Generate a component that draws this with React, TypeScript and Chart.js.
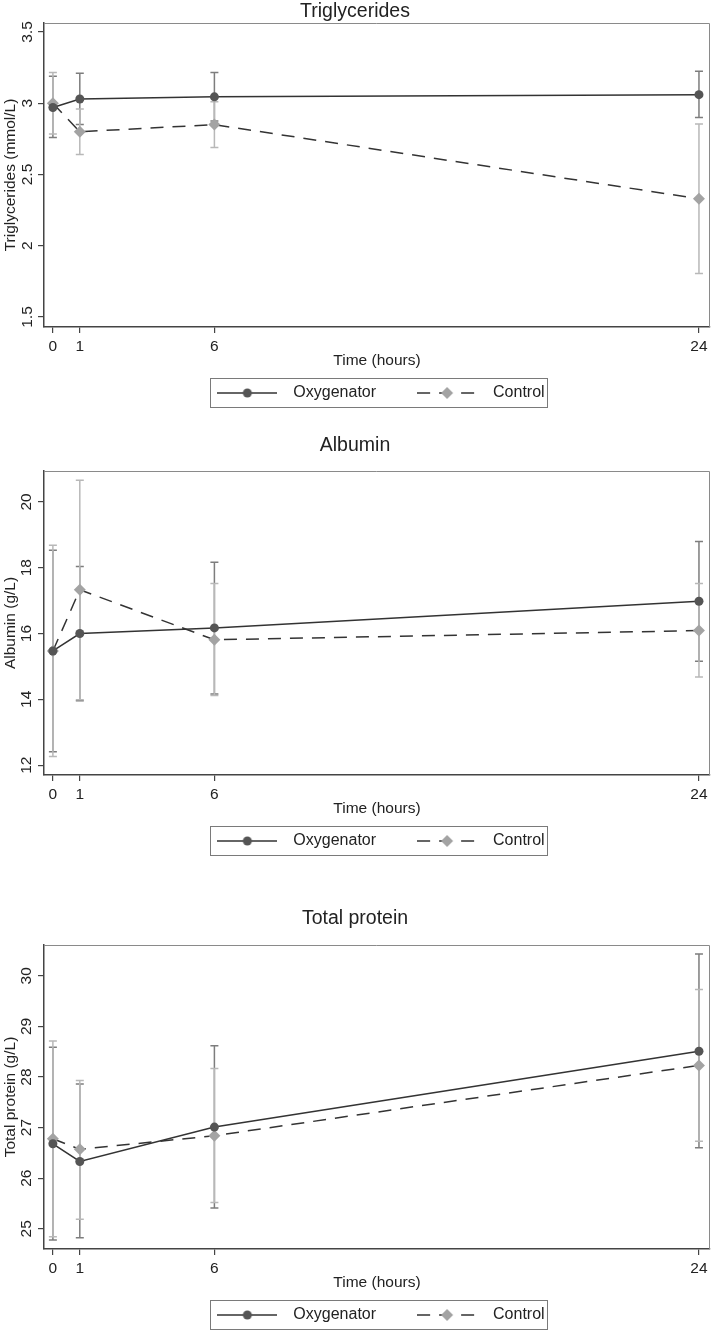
import React, { useEffect, useRef } from 'react';
import { Chart, registerables } from 'chart.js';
Chart.register(...registerables);

// ---------- data ----------
const hours = [0, 1, 6, 24];
const xTickValues = [0, 1, 6, 24];
const seriesNames = ['Oxygenator', 'Control'];

const trigOxy = [2.97, 3.03, 3.045, 3.06];
const trigOxyLo = [2.76, 2.85, 2.875, 2.9];
const trigOxyHi = [3.19, 3.21, 3.215, 3.225];
const trigCtrl = [3.0, 2.8, 2.85, 2.33];
const trigCtrlLo = [2.785, 2.64, 2.69, 1.805];
const trigCtrlHi = [3.215, 2.96, 3.01, 2.855];
const trigTicks = [1.5, 2, 2.5, 3, 3.5];

const albOxy = [15.47, 16.0, 16.17, 16.98];
const albOxyLo = [12.41, 13.96, 14.16, 15.16];
const albOxyHi = [18.53, 18.04, 18.17, 18.8];
const albCtrl = [15.47, 17.33, 15.81, 16.09];
const albCtrlLo = [12.26, 13.99, 14.12, 14.68];
const albCtrlHi = [18.68, 20.66, 17.52, 17.52];
const albTicks = [12, 14, 16, 18, 20];

const tpOxy = [26.68, 26.33, 27.01, 28.51];
const tpOxyLo = [24.78, 24.82, 25.41, 26.6];
const tpOxyHi = [28.59, 27.86, 28.62, 30.43];
const tpCtrl = [26.78, 26.57, 26.84, 28.23];
const tpCtrlLo = [24.84, 25.19, 25.52, 26.73];
const tpCtrlHi = [28.71, 27.93, 28.17, 29.73];
const tpTicks = [25, 26, 27, 28, 29, 30];

// ---------- styling / layout ----------
const FONT = '"Liberation Sans", Arial, Helvetica, sans-serif';
const OXY_MARK = '#555555';
const CTRL_MARK = '#a3a3a3';
const OXY_ERR = '#7d7d7d';
const CTRL_ERR = '#b8b8b8';
const LINE = '#333333';
const DASH = [13, 9];

const panels = [
  {
    title: 'Triglycerides', yTitle: 'Triglycerides (mmol/L)', yMin: 1.43, yMax: 3.563, yTicks: trigTicks,
    oxy: trigOxy, oxyLo: trigOxyLo, oxyHi: trigOxyHi, ctrl: trigCtrl, ctrlLo: trigCtrlLo, ctrlHi: trigCtrlHi,
    height: 420, tTop: 1.5, tBottom: 2, padBottom: 9, tickPad: 0,
  },
  {
    title: 'Albumin', yTitle: 'Albumin (g/L)', yMin: 11.7, yMax: 20.94, yTicks: albTicks,
    oxy: albOxy, oxyLo: albOxyLo, oxyHi: albOxyHi, ctrl: albCtrl, ctrlLo: albCtrlLo, ctrlHi: albCtrlHi,
    height: 450, tTop: 15.5, tBottom: 16, padBottom: 11, tickPad: 2.5,
  },
  {
    title: 'Total protein', yTitle: 'Total protein (g/L)', yMin: 24.6, yMax: 30.61, yTicks: tpTicks,
    oxy: tpOxy, oxyLo: tpOxyLo, oxyHi: tpOxyHi, ctrl: tpCtrl, ctrlLo: tpCtrlLo, ctrlHi: tpCtrlHi,
    height: 463, tTop: 38.5, tBottom: 17, padBottom: 0, tickPad: 2.5,
  },
];

function makeSymbol(kind: 'oxy' | 'ctrl') {
  const c = document.createElement('canvas');
  c.width = 60;
  c.height = 14;
  const g = c.getContext('2d')!;
  g.strokeStyle = LINE;
  g.lineWidth = 1.5;
  if (kind === 'ctrl') g.setLineDash(DASH);
  g.beginPath();
  g.moveTo(0, 7);
  g.lineTo(60, 7);
  g.stroke();
  g.setLineDash([]);
  g.beginPath();
  if (kind === 'oxy') {
    g.fillStyle = OXY_MARK;
    g.arc(30, 7, 4.5, 0, Math.PI * 2);
  } else {
    g.fillStyle = CTRL_MARK;
    g.moveTo(24, 7);
    g.lineTo(30, 1);
    g.lineTo(36, 7);
    g.lineTo(30, 13);
    g.closePath();
  }
  g.fill();
  return c;
}

function Panel({ cfg }: { cfg: any }) {
  const ref = useRef<HTMLCanvasElement>(null);
  useEffect(() => {
    const symbols = [makeSymbol('oxy'), makeSymbol('ctrl')];
    const errs = [
      { lo: cfg.oxyLo, hi: cfg.oxyHi, color: OXY_ERR },
      { lo: cfg.ctrlLo, hi: cfg.ctrlHi, color: CTRL_ERR },
    ];
    const errorBars = {
      id: 'errorBars',
      beforeDatasetsDraw(chart: any) {
        const { ctx, scales } = chart;
        const xs = scales.x;
        const ys = scales.y;
        errs.forEach((e) => {
          ctx.save();
          ctx.strokeStyle = e.color;
          ctx.lineWidth = 1.5;
          e.lo.forEach((lo: number, i: number) => {
            const px = xs.getPixelForValue(hours[i]);
            const pl = ys.getPixelForValue(lo);
            const ph = ys.getPixelForValue(e.hi[i]);
            ctx.beginPath();
            ctx.moveTo(px, pl);
            ctx.lineTo(px, ph);
            ctx.moveTo(px - 4, pl);
            ctx.lineTo(px + 4, pl);
            ctx.moveTo(px - 4, ph);
            ctx.lineTo(px + 4, ph);
            ctx.stroke();
          });
          ctx.restore();
        });
      },
    };
    const frame = {
      id: 'frame',
      beforeDatasetsDraw(chart: any) {
        const { ctx, chartArea: a } = chart;
        ctx.save();
        ctx.strokeStyle = '#8a8a8a';
        ctx.lineWidth = 1;
        ctx.beginPath();
        ctx.moveTo(a.left, a.top + 0.5);
        ctx.lineTo(a.right - 0.5, a.top + 0.5);
        ctx.lineTo(a.right - 0.5, a.bottom);
        ctx.stroke();
        ctx.restore();
      },
    };
    const legendBox = {
      id: 'legendBox',
      afterDraw(chart: any) {
        const hb = chart.legend && chart.legend.legendHitBoxes;
        if (!hb || !hb.length) return;
        const left = Math.min(...hb.map((h: any) => h.left));
        const right = Math.max(...hb.map((h: any) => h.left + h.width));
        const cy = hb[0].top + 8;
        const { ctx } = chart;
        ctx.save();
        ctx.strokeStyle = '#7a7a7a';
        ctx.lineWidth = 1;
        ctx.strokeRect(Math.round(left + 1) + 0.5, Math.round(cy - 15) + 0.5, Math.round(right - left + 2), 29);
        ctx.restore();
      },
    };

    const chart = new Chart(ref.current!, {
      type: 'line',
      data: {
        datasets: [
          {
            label: seriesNames[0],
            data: hours.map((h, i) => ({ x: h, y: cfg.oxy[i] })),
            borderColor: LINE,
            borderWidth: 1.5,
            pointStyle: 'circle',
            pointRadius: 4.5,
            pointBackgroundColor: OXY_MARK,
            pointBorderColor: OXY_MARK,
            pointBorderWidth: 0,
            fill: false,
          },
          {
            label: seriesNames[1],
            data: hours.map((h, i) => ({ x: h, y: cfg.ctrl[i] })),
            borderColor: LINE,
            borderWidth: 1.5,
            borderDash: DASH,
            pointStyle: 'rectRot',
            pointRadius: 6,
            pointBackgroundColor: CTRL_MARK,
            pointBorderColor: CTRL_MARK,
            pointBorderWidth: 0,
            fill: false,
          },
        ],
      },
      options: {
        animation: false,
        responsive: false,
        devicePixelRatio: 1,
        events: [],
        layout: { autoPadding: false, padding: { left: 0, right: 2, top: 0, bottom: cfg.padBottom } },
        scales: {
          x: {
            type: 'linear',
            min: -0.33,
            max: 24.41,
            afterBuildTicks: (s: any) => {
              s.ticks = xTickValues.map((v) => ({ value: v }));
            },
            afterFit: (s: any) => {
              s.height = 25;
              s.paddingLeft = 0;
              s.paddingRight = 0;
            },
            ticks: {
              autoSkip: false,
              maxRotation: 0,
              padding: 4.5,
              color: '#222',
              font: { family: FONT, size: 15.5 },
              callback: (v: any) => String(v),
            },
            grid: { drawOnChartArea: false, drawTicks: true, tickLength: 6, color: '#444', lineWidth: 1.2 },
            border: { display: true, color: '#444', width: 1.5 },
            title: {
              display: true,
              text: 'Time (hours)',
              color: '#222',
              font: { family: FONT, size: 15.5 },
              padding: { top: 0, bottom: -18.3 },
            },
          },
          y: {
            type: 'linear',
            min: cfg.yMin,
            max: cfg.yMax,
            afterBuildTicks: (s: any) => {
              s.ticks = cfg.yTicks.map((v: number) => ({ value: v }));
            },
            afterFit: (s: any) => {
              s.width = 44;
            },
            ticks: {
              autoSkip: false,
              minRotation: 90,
              maxRotation: 90,
              crossAlign: 'center',
              padding: cfg.tickPad,
              color: '#222',
              font: { family: FONT, size: 15.5 },
              callback: (v: any) => String(v),
            },
            grid: { drawOnChartArea: false, drawTicks: true, tickLength: 6, color: '#444', lineWidth: 1.2 },
            border: { display: true, color: '#444', width: 1.5 },
            title: {
              display: true,
              text: cfg.yTitle,
              color: '#222',
              font: { family: FONT, size: 15.5 },
              padding: { top: 1.5, bottom: 0 },
            },
          },
        },
        plugins: {
          title: {
            display: true,
            text: cfg.title,
            color: '#222',
            font: { family: FONT, size: 19.5, weight: 'normal', lineHeight: 1 },
            padding: { top: cfg.tTop, bottom: cfg.tBottom },
          },
          legend: {
            display: true,
            position: 'bottom',
            fullSize: false,
            labels: {
              usePointStyle: true,
              pointStyleWidth: 76,
              padding: 33,
              color: '#222',
              font: { family: FONT, size: 16 },
              generateLabels: (chart: any) => {
                const items = (Chart as any).defaults.plugins.legend.labels.generateLabels(chart);
                return items.map((it: any, i: number) => ({ ...it, pointStyle: symbols[i], fontColor: '#222' }));
              },
            },
          },
          tooltip: { enabled: false },
        },
      } as any,
      plugins: [errorBars, frame, legendBox],
    });
    return () => chart.destroy();
  }, []);
  return (
    <canvas
      ref={ref}
      width={712}
      height={cfg.height}
      style={{ display: 'block', width: 712, height: cfg.height }}
    />
  );
}

export default function App() {
  return (
    <div style={{ position: 'absolute', left: 0, top: 0, width: 712, background: '#ffffff' }}>
      {panels.map((p, i) => (
        <Panel key={i} cfg={p} />
      ))}
    </div>
  );
}
